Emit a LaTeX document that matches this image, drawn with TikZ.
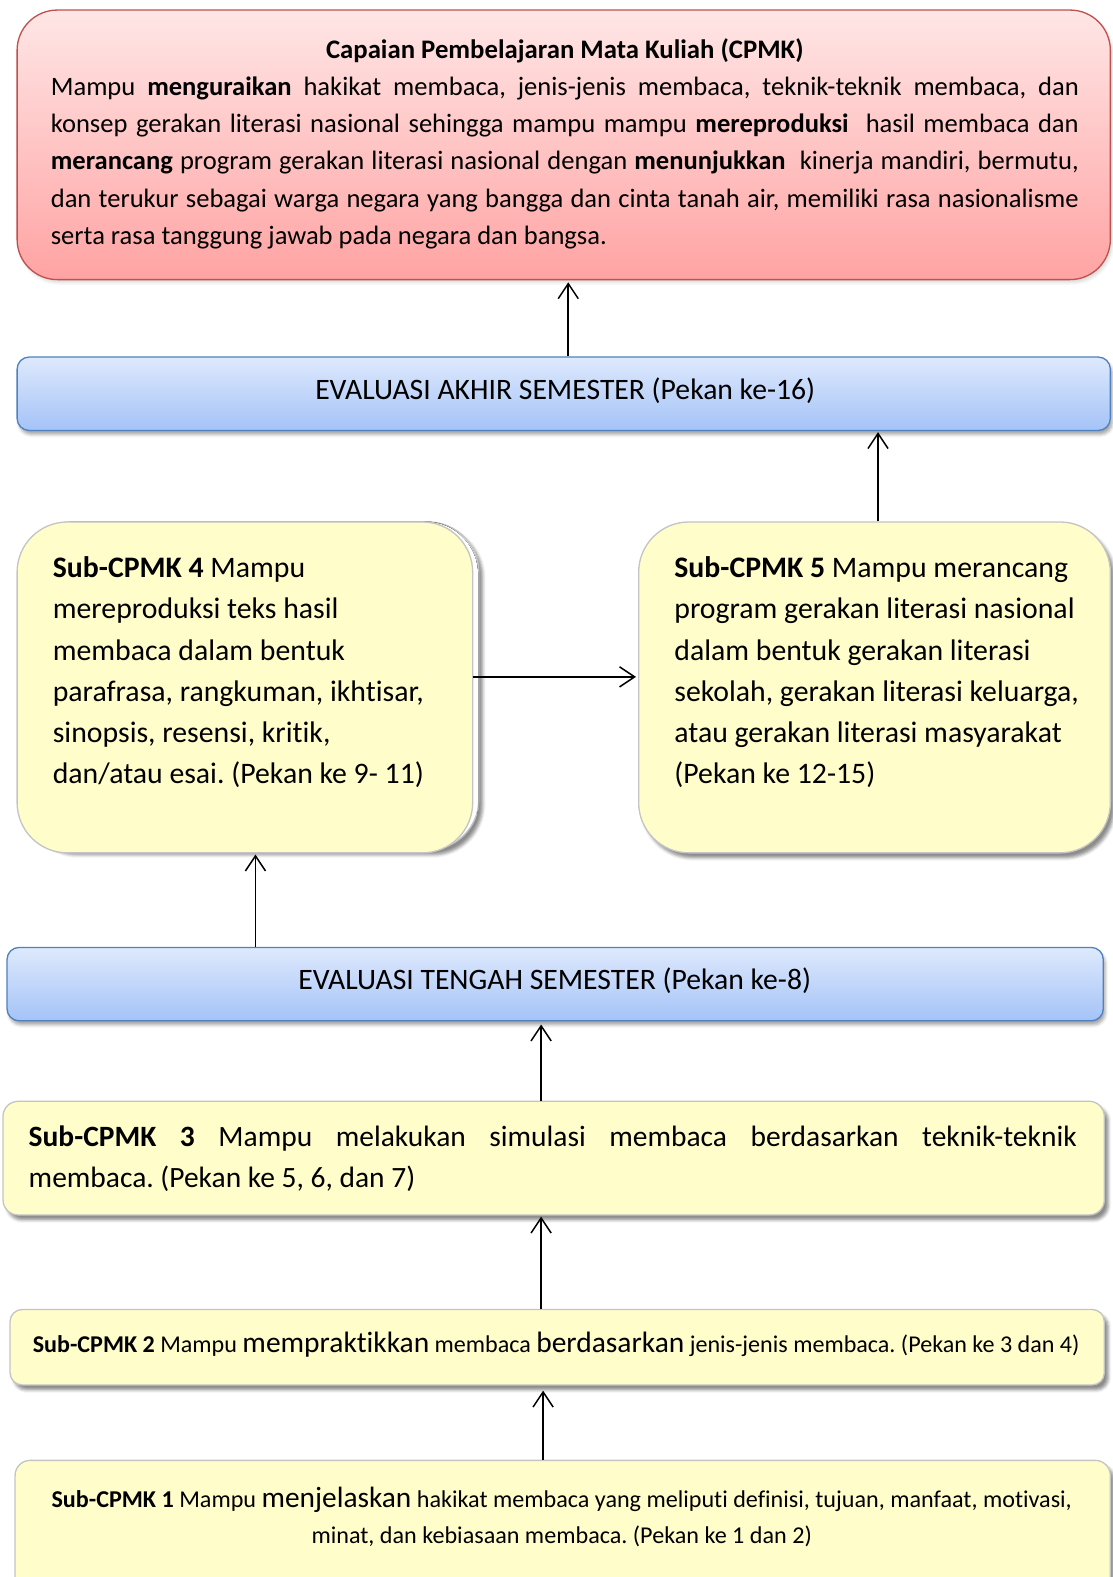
\documentclass[tikz,border=0pt]{standalone}
\usepackage{fontspec}
\setmainfont{Carlito}[Ligatures=NoCommon]
\usetikzlibrary{arrows.meta,calc,shadows.blur}
\frenchspacing

\definecolor{redtop}{HTML}{FFE6E6}
\definecolor{redbot}{HTML}{FFA3A3}
\definecolor{redline}{HTML}{C0504D}
\definecolor{bluetop}{HTML}{DEE9FD}
\definecolor{bluebot}{HTML}{A4C3F7}
\definecolor{blueline}{HTML}{4F81BD}
\definecolor{yelfill}{HTML}{FFFDCA}
\definecolor{yelline}{HTML}{C4C4C4}

\tikzset{
  box/.style={rectangle, inner sep=0pt, line width=1.3pt},
  redbox/.style={box, draw=redline, top color=redtop, bottom color=redbot,
    rounded corners=40pt,
    blur shadow={shadow xshift=2pt, shadow yshift=-3pt, shadow opacity=15, shadow blur radius=3pt}},
  bluebox/.style={box, draw=blueline, top color=bluetop, bottom color=bluebot,
    rounded corners=12pt,
    blur shadow={shadow xshift=2pt, shadow yshift=-4pt, shadow opacity=35, shadow blur radius=3pt}},
  yelbox/.style={box, draw=yelline, fill=yelfill,
    blur shadow={shadow xshift=4pt, shadow yshift=-5pt, shadow opacity=45, shadow blur radius=3pt}},
  txt/.style={inner sep=0pt, text=black},
  arr/.style={-{Straight Barb[length=15pt,width=20pt,line width=1.5pt]}, line width=1.5pt, black},
}

\begin{document}
\begin{tikzpicture}[x=1pt,y=-1pt]
\useasboundingbox (0,0) rectangle (1106,1568);

% boxes
\node[redbox, minimum width=1087pt, minimum height=268pt] (cpmk) at (560.5,144) {};
\node[bluebox, minimum width=1087pt, minimum height=73pt] (eas) at (560.5,391.5) {};
\node[yelbox, draw=yelline, fill=white, rounded corners=50pt, minimum width=453pt, minimum height=326pt] (sub4bg) at (249.5,682) {};
\node[yelbox, blur shadow={shadow opacity=0}, rounded corners=50pt, minimum width=453pt, minimum height=329pt] (sub4) at (243.5,683.5) {};
\node[yelbox, rounded corners=50pt, minimum width=469pt, minimum height=329pt] (sub5) at (869.5,683.5) {};
\node[bluebox, minimum width=1090pt, minimum height=73pt] (ets) at (552,978.5) {};
\node[yelbox, rounded corners=15pt, minimum width=1095pt, minimum height=113pt] (sub3) at (550.5,1151.5) {};
\node[yelbox, rounded corners=12pt, minimum width=1088pt, minimum height=75pt] (sub2) at (554,1339.5) {};
\node[yelbox, rounded corners=15pt, minimum width=1089pt, minimum height=148pt] (sub1) at (559.5,1526) {};

% texts
\node[txt, anchor=base west] (cpmktext) at ($(cpmk.north west)+(34,48.5)$) {\parbox[t]{1022pt}{\fontsize{26.4}{37}\selectfont
\makebox[1022pt]{\fontsize{26.6}{37}\selectfont\bfseries Capaian Pembelajaran Mata Kuliah (CPMK)}\\
\makebox[1022pt][s]{Mampu \textbf{menguraikan} hakikat membaca, jenis-jenis membaca, teknik-teknik membaca, dan}\\
\makebox[1022pt][s]{konsep gerakan literasi nasional sehingga mampu mampu \textbf{mereproduksi}\ \ hasil membaca dan}\\
\makebox[1022pt][s]{\textbf{merancang} program gerakan literasi nasional dengan \textbf{menunjukkan}\ \ kinerja mandiri, bermutu,}\\
\makebox[1022pt][s]{dan terukur sebagai warga negara yang bangga dan cinta tanah air, memiliki rasa nasionalisme}\\
serta rasa tanggung jawab pada negara dan bangsa.}};

\node[txt, anchor=base] (eastext) at ($(eas.center)+(1.5,6)$) {\fontsize{29.5}{32}\selectfont EVALUASI AKHIR SEMESTER (Pekan ke-16)};

\node[txt, anchor=base west] (sub4text) at ($(sub4.north west)+(36,56)$) {\parbox[t]{420pt}{\fontsize{29.6}{41}\selectfont
\textbf{Sub-CPMK 4} Mampu\\
mereproduksi teks hasil\\
membaca dalam bentuk\\
parafrasa, rangkuman, ikhtisar,\\
sinopsis, resensi, kritik,\\
dan/atau esai. (Pekan ke 9- 11)}};

\node[txt, anchor=base west] (sub5text) at ($(sub5.north west)+(36,56)$) {\parbox[t]{430pt}{\fontsize{29.6}{41}\selectfont
\textbf{Sub-CPMK 5} Mampu merancang\\
program gerakan literasi nasional\\
dalam bentuk gerakan literasi\\
sekolah, gerakan literasi keluarga,\\
atau gerakan literasi masyarakat\\
(Pekan ke 12-15)}};

\node[txt, anchor=base] (etstext) at ($(ets.center)+(-0.5,5.8)$) {\fontsize{29.5}{32}\selectfont EVALUASI TENGAH SEMESTER (Pekan ke-8)};

\node[txt, anchor=base west] (sub3text) at ($(sub3.north west)+(26,46)$) {\parbox[t]{1042pt}{\fontsize{29.3}{40}\selectfont
\makebox[1042pt][s]{\textbf{Sub-CPMK 3} Mampu melakukan simulasi membaca berdasarkan teknik-teknik}\\
membaca. (Pekan ke 5, 6, dan 7)}};

\node[txt, anchor=base] (sub2text) at ($(sub2.center)+(-1,5.2)$) {\fontsize{23.95}{30}\selectfont
\textbf{Sub-CPMK 2} Mampu {\fontsize{29.3}{34}\selectfont mempraktikkan} membaca {\fontsize{29.3}{34}\selectfont berdasarkan} jenis-jenis membaca. (Pekan ke 3 dan 4)};

\node[txt, anchor=base] (sub1text) at ($(sub1.north)+(-1,47.4)$) {\parbox[t]{1080pt}{\centering\fontsize{24}{36}\selectfont
\textbf{Sub-CPMK 1} Mampu {\fontsize{29.2}{34}\selectfont menjelaskan} hakikat membaca yang meliputi definisi, tujuan, manfaat, motivasi,\\
minat, dan kebiasaan membaca. (Pekan ke 1 dan 2)}};

% connectors
\draw[arr] ($(eas.north)+(4.5,0)$) -- ($(cpmk.south)+(4.5,2)$);
\draw[arr] ($(sub5.north)+(3.5,0)$) -- ($(eas.south -| sub5.north)+(3.5,1)$);
\draw[arr] ($(sub4.east)+(0,-10.5)$) -- ($(sub5.west)+(-2,-10.5)$);
\draw[arr] ($(ets.north -| sub4.south)+(10.5,0)$) -- ($(sub4.south)+(10.5,1)$);
\draw[arr] ($(sub3.north)+(-12.5,0)$) -- ($(ets.south -| sub3.north)+(-12.5,3)$);
\draw[arr] ($(sub2.north)+(-16,0)$) -- ($(sub3.south -| sub2.north)+(-16,1)$);
\draw[arr] ($(sub1.north)+(-19.5,0)$) -- ($(sub2.south -| sub1.north)+(-19.5,5)$);
\end{tikzpicture}
\end{document}
